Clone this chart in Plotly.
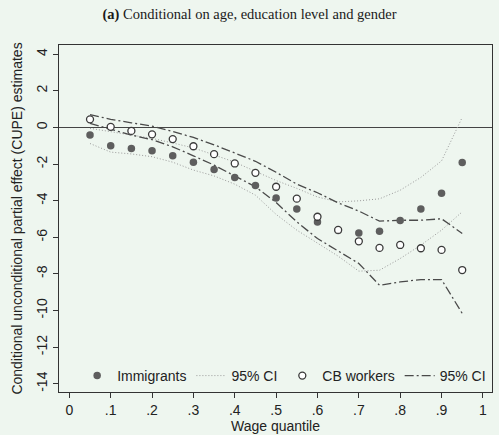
import plotly.graph_objects as go

quantiles = [0.05, 0.10, 0.15, 0.20, 0.25, 0.30, 0.35, 0.40, 0.45, 0.50,
             0.55, 0.60, 0.65, 0.70, 0.75, 0.80, 0.85, 0.90, 0.95]

immigrants = [-0.42, -1.00, -1.15, -1.28, -1.55, -1.90, -2.30, -2.73, -3.17, -3.85,
              -4.46, -5.17, -5.63, -5.77, -5.67, -5.08, -4.46, -3.59, -1.91]
imm_ci_hi = [-0.05, -0.24, -0.42, -0.60, -0.85, -1.12, -1.50, -1.90, -2.40, -2.90,
             -3.33, -3.80, -4.07, -4.01, -3.90, -3.43, -2.73, -1.83, 0.55]
imm_ci_lo = [-0.88, -1.35, -1.45, -1.60, -1.90, -2.33, -2.65, -3.10, -3.70, -4.75,
             -5.61, -6.34, -7.03, -7.85, -7.80, -7.16, -6.43, -5.61, -4.61]

cb_workers = [0.44, 0.03, -0.19, -0.38, -0.64, -1.03, -1.46, -1.97, -2.48, -3.24,
              -3.89, -4.88, -5.60, -6.22, -6.58, -6.42, -6.60, -6.69, -7.79]
cb_ci_hi = [0.70, 0.44, 0.25, 0.07, -0.22, -0.55, -0.95, -1.38, -1.85, -2.45,
            -3.10, -3.57, -4.12, -4.57, -5.12, -5.07, -5.07, -4.99, -5.79]
cb_ci_lo = [0.22, -0.11, -0.42, -0.67, -1.06, -1.55, -2.06, -2.65, -3.24, -4.10,
            -5.16, -6.07, -6.74, -7.43, -8.62, -8.44, -8.31, -8.31, -10.16]

x_ticks = [0, 0.1, 0.2, 0.3, 0.4, 0.5, 0.6, 0.7, 0.8, 0.9, 1]
x_labels = ["0", ".1", ".2", ".3", ".4", ".5", ".6", ".7", ".8", ".9", "1"]
y_ticks = [-14, -12, -10, -8, -6, -4, -2, 0, 2, 4]
y_labels = ["-14", "-12", "-10", "-8", "-6", "-4", "-2", "0", "2", "4"]

BG = "#eef6ef"
FONT = "Liberation Sans, Arial, sans-serif"

fig = go.Figure()

# confidence bands
fig.add_trace(go.Scatter(x=quantiles, y=imm_ci_hi, mode="lines", name="95% CI",
                         line=dict(color="#9a9a9a", width=1, dash="1px,2px"),
                         legendgroup="imm", legendrank=2))
fig.add_trace(go.Scatter(x=quantiles, y=imm_ci_lo, mode="lines", showlegend=False,
                         line=dict(color="#9a9a9a", width=1, dash="1px,2px"),
                         legendgroup="imm"))
fig.add_trace(go.Scatter(x=quantiles, y=cb_ci_hi, mode="lines", name="95% CI",
                         line=dict(color="#4a4a4a", width=1.3, dash="9px,3px,2px,3px"),
                         legendgroup="cb", legendrank=4))
fig.add_trace(go.Scatter(x=quantiles, y=cb_ci_lo, mode="lines", showlegend=False,
                         line=dict(color="#4a4a4a", width=1.3, dash="9px,3px,2px,3px"),
                         legendgroup="cb"))

# point estimates
fig.add_trace(go.Scatter(x=quantiles, y=immigrants, mode="markers", name="Immigrants",
                         marker=dict(symbol="circle", size=7.5, color="#5e5e5e",
                                     line=dict(width=0)),
                         legendrank=1))
fig.add_trace(go.Scatter(x=quantiles, y=cb_workers, mode="markers", name="CB workers",
                         marker=dict(symbol="circle", size=7, color="#ffffff",
                                     line=dict(color="#3a3a3a", width=1.3)),
                         legendrank=3))

fig.update_layout(
    width=499, height=435,
    margin=dict(l=59, r=7, t=45, b=43),
    paper_bgcolor=BG, plot_bgcolor=BG,
    font=dict(family=FONT, size=14, color="#222"),
    title=dict(text="<b>(a)</b> Conditional on age, education level and gender",
               x=0.5, xanchor="center", y=1 - 14 / 435, yanchor="middle",
               font=dict(family="Liberation Serif, DejaVu Serif, serif", size=14.5, color="#1a1a1a")),
    legend=dict(orientation="h", x=0.52, xanchor="center", y=0.0, yanchor="bottom",
                bgcolor="rgba(0,0,0,0)", font=dict(size=14, family=FONT),
                traceorder="normal", itemwidth=30),
    showlegend=True,
)

fig.update_xaxes(range=[-0.025, 1.022], tickvals=x_ticks, ticktext=x_labels,
                 ticks="outside", ticklen=5, tickcolor="#333", showgrid=False,
                 showline=True, linecolor="#333", linewidth=1.2, mirror=True,
                 zeroline=False, tickfont=dict(size=14),
                 title=dict(text="Wage quantile", standoff=0, font=dict(size=14)))
fig.update_yaxes(range=[-14.45, 4.5], tickvals=y_ticks, ticktext=y_labels, tickangle=-90,
                 ticks="outside", ticklen=5, tickcolor="#333", showgrid=False,
                 showline=True, linecolor="#333", linewidth=1.2, mirror=True,
                 zeroline=True, zerolinecolor="#444", zerolinewidth=1.3,
                 tickfont=dict(size=14),
                 title=dict(text="Conditional unconditional partial effect (CUPE) estimates",
                            standoff=8, font=dict(size=14)))

fig.write_html("out.html")
